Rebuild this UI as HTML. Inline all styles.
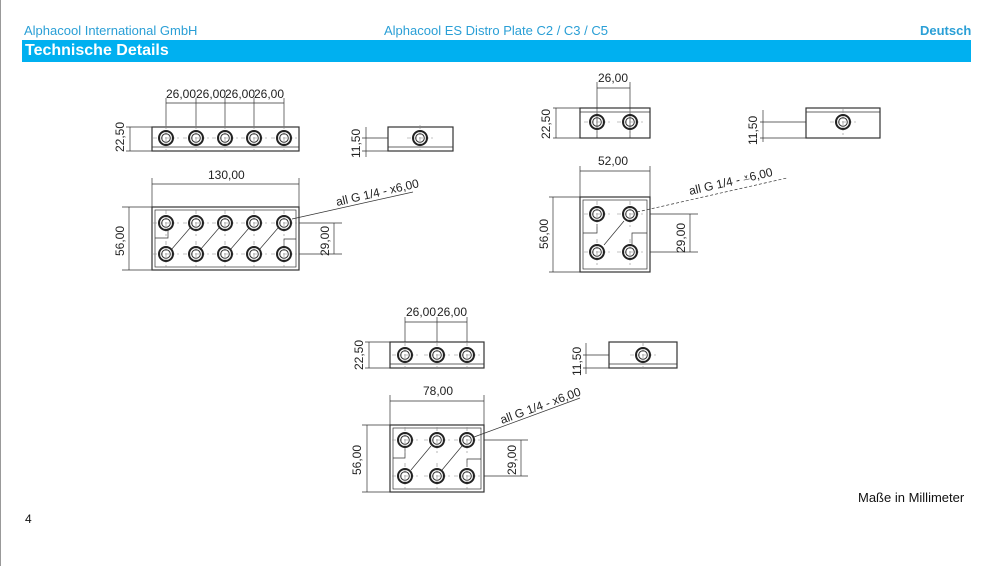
<!DOCTYPE html>
<html><head><meta charset="utf-8"><style>
html,body{margin:0;padding:0;background:#fff}
body{width:992px;height:566px;position:relative;overflow:hidden;font-family:"Liberation Sans",sans-serif}
.t{position:absolute;font-size:13px;color:#2a9fd6;top:23px}
</style></head><body>
<div style="position:absolute;left:0;top:0;width:1px;height:566px;background:#999"></div>
<div class="t" style="left:24px">Alphacool International GmbH</div>
<div class="t" style="left:384px">Alphacool ES Distro Plate C2 / C3 / C5</div>
<div class="t" style="left:920px;font-weight:bold">Deutsch</div>
<div style="position:absolute;left:22px;top:40px;width:949px;height:22px;background:#00b0f0;color:#fff;font-weight:bold;font-size:16px;line-height:21px;padding-left:3px;box-sizing:border-box">Technische Details</div>
<div style="position:absolute;left:858px;top:490px;font-size:13px;color:#111">Maße in Millimeter</div>
<div style="position:absolute;left:25px;top:512px;font-size:12px;color:#111">4</div>
<svg width="992" height="566" style="position:absolute;left:0;top:0" font-family="Liberation Sans, sans-serif" font-size="12" fill="#222">
<defs>
<g id="h"><line x1="-13" y1="0" x2="13" y2="0" stroke="#888" stroke-width=".6" stroke-dasharray="4 2"/><line x1="0" y1="-13" x2="0" y2="13" stroke="#888" stroke-width=".6" stroke-dasharray="4 2"/><circle r="7" fill="none" stroke="#222" stroke-width="2"/><circle r="4.3" fill="none" stroke="#333" stroke-width="1"/></g>
</defs>
<g stroke="#333" stroke-width=".7" fill="none">
<rect x="152" y="127" width="147" height="24" stroke-width="1.2"/><line x1="152" y1="147" x2="299" y2="147"/>
<line x1="130" y1="127" x2="130" y2="151"/><line x1="126" y1="127" x2="152" y2="127"/><line x1="126" y1="151" x2="152" y2="151"/>
<line x1="166" y1="103" x2="284" y2="103"/>
<line x1="166" y1="98" x2="166" y2="127"/><line x1="196" y1="98" x2="196" y2="127"/><line x1="225" y1="98" x2="225" y2="127"/><line x1="254" y1="98" x2="254" y2="127"/><line x1="284" y1="98" x2="284" y2="127"/>
<rect x="388" y="127" width="65" height="24" stroke-width="1.2"/><line x1="388" y1="147" x2="453" y2="147"/>
<line x1="366" y1="127" x2="366" y2="157"/><line x1="362" y1="138" x2="388" y2="138"/><line x1="362" y1="151" x2="388" y2="151"/>
<rect x="152" y="207" width="147" height="63" stroke-width="1.2"/><rect x="155" y="210" width="141" height="57"/>
<polyline points="155,238 168,238 168,228"/><polyline points="296,239 284,239 284,247"/>
<line x1="171" y1="250" x2="190" y2="228"/><line x1="200" y1="250" x2="219" y2="228"/><line x1="230" y1="250" x2="249" y2="228"/><line x1="259" y1="250" x2="278" y2="228"/>
<line x1="152" y1="178" x2="152" y2="207"/><line x1="299" y1="178" x2="299" y2="207"/><line x1="152" y1="184" x2="299" y2="184"/>
<line x1="122" y1="207" x2="152" y2="207"/><line x1="122" y1="270" x2="152" y2="270"/><line x1="129" y1="207" x2="129" y2="270"/>
<line x1="299" y1="223" x2="342" y2="223"/><line x1="299" y1="254" x2="342" y2="254"/><line x1="334" y1="223" x2="334" y2="254"/>
<line x1="292" y1="219" x2="413" y2="192"/>
<rect x="580" y="108" width="70" height="30" stroke-width="1.2"/><line x1="580" y1="112" x2="650" y2="112"/>
<line x1="597" y1="82" x2="597" y2="138"/><line x1="630" y1="82" x2="630" y2="138"/><line x1="597" y1="88" x2="630" y2="88"/>
<line x1="553" y1="108" x2="580" y2="108"/><line x1="553" y1="138" x2="580" y2="138"/><line x1="556" y1="108" x2="556" y2="138"/>
<rect x="806" y="108" width="74" height="30" stroke-width="1.2"/><line x1="806" y1="112" x2="880" y2="112"/>
<line x1="763" y1="110" x2="763" y2="142"/><line x1="760" y1="122" x2="806" y2="122"/><line x1="760" y1="138" x2="806" y2="138"/>
<rect x="580" y="197" width="70" height="75" stroke-width="1.2"/><rect x="583" y="200" width="64" height="69"/>
<polyline points="583,233 597,233 597,224"/><polyline points="647,233 632,233 632,244"/>
<line x1="604" y1="245" x2="624" y2="221"/>
<line x1="580" y1="166" x2="580" y2="197"/><line x1="650" y1="166" x2="650" y2="197"/><line x1="580" y1="171" x2="650" y2="171"/>
<line x1="549" y1="197" x2="580" y2="197"/><line x1="549" y1="272" x2="580" y2="272"/><line x1="553" y1="197" x2="553" y2="272"/>
<line x1="650" y1="214" x2="698" y2="214"/><line x1="650" y1="252" x2="698" y2="252"/><line x1="690" y1="214" x2="690" y2="252"/>
<line x1="637" y1="212" x2="787" y2="178" stroke-dasharray="3 2"/>
<rect x="390" y="342" width="94" height="26" stroke-width="1.2"/><line x1="390" y1="364" x2="484" y2="364"/>
<line x1="405" y1="317" x2="405" y2="342"/><line x1="437" y1="317" x2="437" y2="342"/><line x1="467" y1="317" x2="467" y2="342"/><line x1="405" y1="322" x2="467" y2="322"/>
<line x1="365" y1="342" x2="390" y2="342"/><line x1="365" y1="368" x2="390" y2="368"/><line x1="369" y1="342" x2="369" y2="368"/>
<rect x="609" y="342" width="68" height="26" stroke-width="1.2"/><line x1="609" y1="364" x2="677" y2="364"/>
<line x1="586" y1="343" x2="586" y2="374"/><line x1="583" y1="355" x2="609" y2="355"/><line x1="583" y1="368" x2="609" y2="368"/>
<rect x="390" y="425" width="94" height="67" stroke-width="1.2"/><rect x="393" y="428" width="88" height="61"/>
<polyline points="393,458 405,458 405,448"/><polyline points="481,459 467,459 467,467"/>
<line x1="411" y1="470" x2="431" y2="446"/><line x1="442" y1="470" x2="462" y2="446"/>
<line x1="390" y1="395" x2="390" y2="425"/><line x1="484" y1="395" x2="484" y2="425"/><line x1="390" y1="401" x2="484" y2="401"/>
<line x1="362" y1="425" x2="390" y2="425"/><line x1="362" y1="492" x2="390" y2="492"/><line x1="367" y1="425" x2="367" y2="492"/>
<line x1="484" y1="440" x2="528" y2="440"/><line x1="484" y1="476" x2="528" y2="476"/><line x1="521" y1="440" x2="521" y2="476"/>
<line x1="474" y1="437" x2="580" y2="398"/>
</g>
<use href="#h" x="166" y="138"/><use href="#h" x="196" y="138"/><use href="#h" x="225" y="138"/><use href="#h" x="254" y="138"/><use href="#h" x="284" y="138"/>
<use href="#h" x="420" y="138"/>
<use href="#h" x="166" y="223"/><use href="#h" x="196" y="223"/><use href="#h" x="225" y="223"/><use href="#h" x="254" y="223"/><use href="#h" x="284" y="223"/>
<use href="#h" x="166" y="254"/><use href="#h" x="196" y="254"/><use href="#h" x="225" y="254"/><use href="#h" x="254" y="254"/><use href="#h" x="284" y="254"/>
<use href="#h" x="597" y="122"/><use href="#h" x="630" y="122"/><use href="#h" x="843" y="122"/>
<use href="#h" x="597" y="214"/><use href="#h" x="630" y="214"/><use href="#h" x="597" y="252"/><use href="#h" x="630" y="252"/>
<use href="#h" x="405" y="355"/><use href="#h" x="437" y="355"/><use href="#h" x="467" y="355"/><use href="#h" x="643" y="355"/>
<use href="#h" x="405" y="440"/><use href="#h" x="437" y="440"/><use href="#h" x="467" y="440"/><use href="#h" x="405" y="476"/><use href="#h" x="437" y="476"/><use href="#h" x="467" y="476"/>
<text x="166" y="98">26,00</text><text x="196" y="98">26,00</text><text x="225" y="98">26,00</text><text x="254" y="98">26,00</text>
<text x="208" y="179">130,00</text>
<text transform="translate(124,152) rotate(-90)">22,50</text>
<text transform="translate(360,158) rotate(-90)">11,50</text>
<text transform="translate(124,256) rotate(-90)">56,00</text>
<text transform="translate(329,256) rotate(-90)">29,00</text>
<text transform="translate(337,206) rotate(-13)">all G 1/4 - x6,00</text>
<text x="598" y="82">26,00</text><text x="598" y="165">52,00</text>
<text transform="translate(550,139) rotate(-90)">22,50</text>
<text transform="translate(757,145) rotate(-90)">11,50</text>
<text transform="translate(548,249) rotate(-90)">56,00</text>
<text transform="translate(685,253) rotate(-90)">29,00</text>
<text transform="translate(690,195) rotate(-13)">all G 1/4 - ⩡6,00</text>
<text x="406" y="316">26,00</text><text x="437" y="316">26,00</text><text x="423" y="395">78,00</text>
<text transform="translate(363,370) rotate(-90)">22,50</text>
<text transform="translate(581,376) rotate(-90)">11,50</text>
<text transform="translate(361,475) rotate(-90)">56,00</text>
<text transform="translate(516,475) rotate(-90)">29,00</text>
<text transform="translate(502,424) rotate(-20)">all G 1/4 - x6,00</text>
</svg>
</body></html>
